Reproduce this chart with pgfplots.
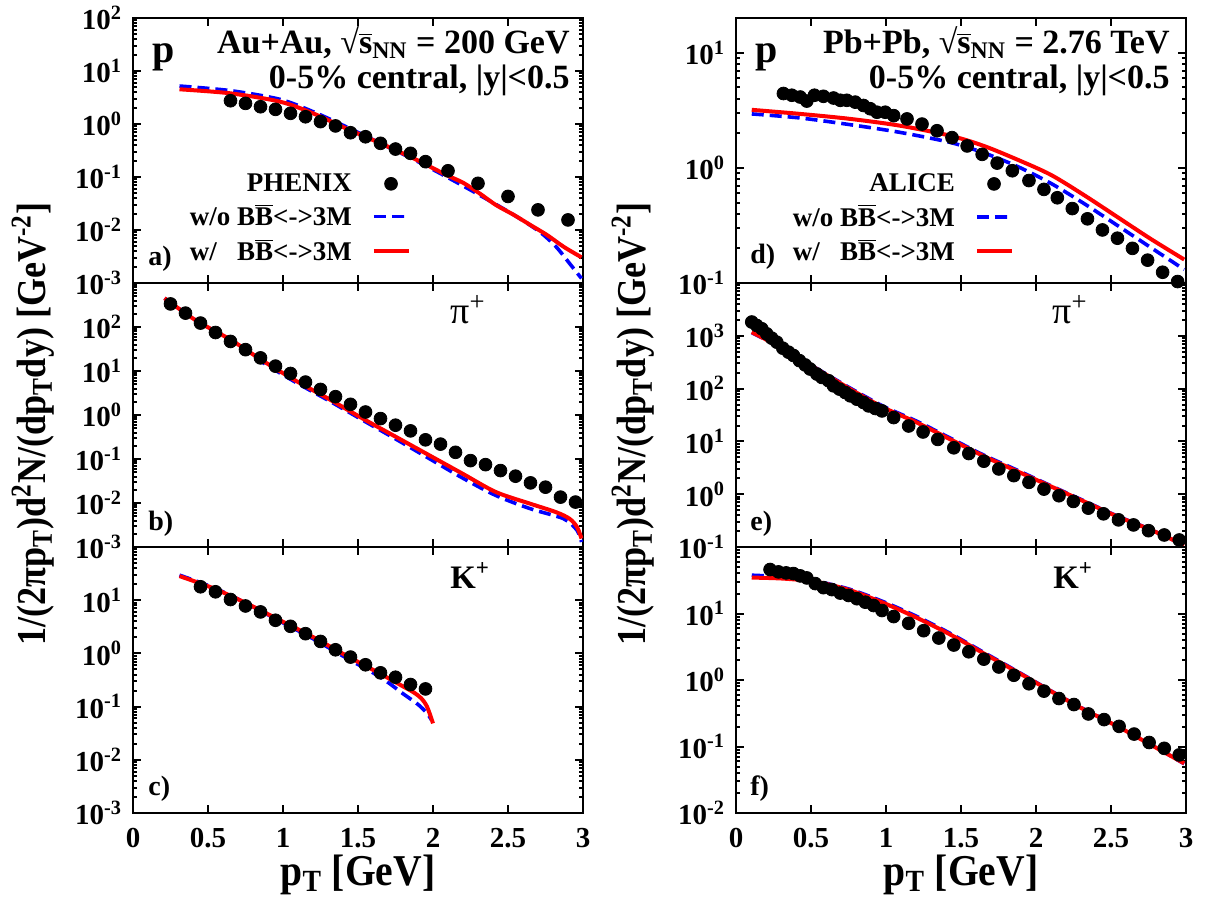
\documentclass[border=0pt]{standalone}
\usepackage{fontspec}
\setmainfont{Liberation Serif}
\usepackage{pgfplots}
\pgfplotsset{compat=1.18}

\definecolor{thred}{RGB}{255,0,0}
\definecolor{thblue}{RGB}{0,0,255}
\newcommand\fs[1]{\fontsize{#1}{#1}\selectfont}
\newcommand\tp[1]{10\textsuperscript{#1}}
\newcommand\bbar{B$\overline{\mbox{B}}$<->3M}

\pgfplotsset{
  myaxis/.style={
    scale only axis, width=225pt, xmin=0, xmax=3,
    anchor=north west,
    axis line style={line width=1.4pt},
    every tick/.style={line width=1pt, black},
    major tick length=4pt, minor tick length=2pt,
    tick align=inside,
    xtick={0,0.5,1,1.5,2,2.5,3}, xticklabels={},
    yticklabel style={font=\bfseries\fs{14.5}, xshift=-2pt},
    xticklabel style={font=\bfseries\fs{14.5}, yshift=-4pt},
  },
  mybottom/.style={xticklabels={0,0.5,1,1.5,2,2.5,3}},
  mydat/.style={only marks, mark=*, mark size=3.2pt, black},
  mywo/.style={no marks, thblue, line width=1.8pt, dash pattern=on 6pt off 3pt, smooth},
  mywi/.style={no marks, thred, line width=2pt, smooth},
  myleg/.style={legend plot pos=right, legend cell align=right,
    legend style={draw=none, fill=none, at={(0.63,0.445)}, anchor=north east,
      font=\bfseries\fs{13.5}, row sep=1pt, column sep=8pt}},
  mAC/.style={minor ytick={0.002,0.003,0.004,0.005,0.006,0.007,0.008,0.009,
    0.02,0.03,0.04,0.05,0.06,0.07,0.08,0.09,0.2,0.3,0.4,0.5,0.6,0.7,0.8,0.9,
    2,3,4,5,6,7,8,9,20,30,40,50,60,70,80,90}},
  mB/.style={minor ytick={0.002,0.003,0.004,0.005,0.006,0.007,0.008,0.009,
    0.02,0.03,0.04,0.05,0.06,0.07,0.08,0.09,0.2,0.3,0.4,0.5,0.6,0.7,0.8,0.9,
    2,3,4,5,6,7,8,9,20,30,40,50,60,70,80,90,200,300,400,500,600,700,800,900}},
  mD/.style={minor ytick={0.2,0.3,0.4,0.5,0.6,0.7,0.8,0.9,2,3,4,5,6,7,8,9,20}},
  mE/.style={minor ytick={0.2,0.3,0.4,0.5,0.6,0.7,0.8,0.9,2,3,4,5,6,7,8,9,
    20,30,40,50,60,70,80,90,200,300,400,500,600,700,800,900,
    2000,3000,4000,5000,6000,7000,8000,9000}},
  mF/.style={minor ytick={0.02,0.03,0.04,0.05,0.06,0.07,0.08,0.09,
    0.2,0.3,0.4,0.5,0.6,0.7,0.8,0.9,2,3,4,5,6,7,8,9,20,30,40,50,60,70,80,90}},
}

\begin{document}
\begin{tikzpicture}
\useasboundingbox (0,0) rectangle (605pt,-451pt);

% a) protons, Au+Au
\begin{axis}[ymode=log, myaxis, mAC, myleg, at={(66.5pt,-9pt)}, height=132.5pt,
  ymin=0.001, ymax=100, ytick={0.001,0.01,0.1,1,10,100},
  yticklabels={\tp{-3},\tp{-2},\tp{-1},\tp{0},\tp{1},\tp{2}}]
\addplot[mydat] coordinates {(0.65,2.75)(0.75,2.45)(0.85,2.12)(0.95,1.89)(1.05,1.59)
  (1.15,1.37)(1.25,1.11)(1.35,0.92)(1.45,0.685)(1.55,0.575)(1.65,0.432)(1.75,0.337)
  (1.85,0.28)(1.95,0.195)(2.1,0.131)(2.3,0.076)(2.5,0.043)(2.7,0.024)(2.9,0.0155)};
\addlegendentry{PHENIX}
\addplot[mywo] coordinates {(0.31,5.21)(0.65,4.26)(0.98,2.92)(1.2,1.71)(1.42,0.891)
  (1.65,0.432)(1.87,0.215)(2.09,0.101)(2.31,0.0457)(2.54,0.0192)(2.71,0.0093)
  (2.82,0.00485)(2.91,0.00235)(2.99,0.00122)};
\addlegendentry{w/o \bbar}
\addplot[mywi] coordinates {(0.31,4.52)(0.65,3.79)(0.98,2.64)(1.2,1.59)(1.42,0.828)
  (1.65,0.432)(1.87,0.225)(2.09,0.109)(2.2,0.0782)(2.31,0.0492)(2.42,0.0296)
  (2.54,0.0192)(2.65,0.0124)(2.76,0.00805)(2.87,0.00485)(2.99,0.00305)};
\addlegendentry{w/\hphantom{o} \bbar}
\end{axis}

% b) pi+, Au+Au
\begin{axis}[ymode=log, myaxis, mB, at={(66.5pt,-141.5pt)}, height=132pt,
  ymin=0.001, ymax=1000, ytick={0.001,0.01,0.1,1,10,100,1000},
  yticklabels={\tp{-3},\tp{-2},\tp{-1},\tp{0},\tp{1},\tp{2},{}}]
\addplot[mydat] coordinates {(0.25,335)(0.35,207)(0.45,123)(0.55,75)(0.65,47)(0.75,30.6)
  (0.85,19.9)(0.95,12.9)(1.05,8.8)(1.15,5.6)(1.25,3.82)(1.35,2.61)(1.45,1.75)(1.55,1.17)
  (1.65,0.83)(1.75,0.587)(1.85,0.436)(1.95,0.273)(2.05,0.218)(2.15,0.142)(2.25,0.092)
  (2.35,0.0745)(2.45,0.0546)(2.55,0.0407)(2.65,0.0287)(2.75,0.0229)(2.85,0.0136)(2.95,0.0105)};
\addplot[mywo] coordinates {(0.21,451)(0.42,141)(0.65,49.8)(0.87,15.3)(1.09,5.41)(1.31,2.08)
  (1.54,0.735)(1.76,0.274)(1.98,0.100)(2.2,0.0366)(2.42,0.0148)(2.65,0.0074)(2.87,0.0044)
  (2.96,0.0024)(2.99,0.0013)};
\addplot[mywi] coordinates {(0.21,451)(0.42,141)(0.65,51.5)(0.87,16.7)(1.09,5.89)(1.31,2.27)
  (1.54,0.80)(1.76,0.309)(1.98,0.119)(2.2,0.0458)(2.42,0.0177)(2.65,0.0096)(2.82,0.0062)
  (2.91,0.0044)(2.96,0.00285)(2.99,0.00156)};
\end{axis}

% c) K+, Au+Au
\begin{axis}[ymode=log, myaxis, mybottom, mAC, at={(66.5pt,-273.5pt)}, height=133pt,
  ymin=0.001, ymax=100, ytick={0.001,0.01,0.1,1,10,100},
  yticklabels={\tp{-3},\tp{-2},\tp{-1},\tp{0},\tp{1},{}}]
\addplot[mydat] coordinates {(0.45,17.9)(0.55,14.4)(0.65,10.3)(0.75,7.8)(0.85,6.03)(0.95,4.2)
  (1.05,3.23)(1.15,2.35)(1.25,1.68)(1.35,1.17)(1.45,0.853)(1.55,0.612)(1.65,0.432)
  (1.75,0.357)(1.85,0.26)(1.95,0.215)};
\addplot[mywo] coordinates {(0.31,29.6)(0.54,17.1)(0.76,8.65)(0.98,4.02)(1.2,1.89)(1.42,0.828)
  (1.65,0.357)(1.8,0.175)(1.9,0.11)(1.96,0.075)(1.99,0.056)};
\addplot[mywi] coordinates {(0.31,28.4)(0.54,16.6)(0.76,8.65)(0.98,4.2)(1.2,2.03)(1.42,0.916)
  (1.65,0.413)(1.8,0.24)(1.87,0.186)(1.92,0.145)(1.96,0.1)(2.0,0.0484)};
\end{axis}

% d) protons, Pb+Pb
\begin{axis}[ymode=log, myaxis, mD, myleg, at={(368pt,-9pt)}, height=132.5pt,
  ymin=0.1, ymax=20, ytick={0.1,1,10},
  yticklabels={\tp{-1},\tp{0},\tp{1}}]
\addplot[mydat] coordinates {(0.316,4.42)(0.372,4.27)(0.428,4.12)(0.472,3.8)(0.523,4.27)
  (0.583,4.18)(0.65,4.04)(0.695,3.86)(0.739,3.86)(0.795,3.72)(0.85,3.48)(0.895,3.26)
  (0.94,3.04)(0.995,3.04)(1.051,2.84)(1.14,2.66)(1.24,2.40)(1.34,2.10)(1.44,1.83)
  (1.541,1.55)(1.641,1.31)(1.741,1.10)(1.842,0.944)(1.953,0.776)(2.053,0.65)(2.142,0.55)
  (2.242,0.443)(2.343,0.361)(2.443,0.289)(2.543,0.245)(2.643,0.2)(2.744,0.158)
  (2.844,0.124)(2.944,0.103)};
\addlegendentry{ALICE}
\addplot[mywo] coordinates {(0.105,2.94)(0.428,2.71)(0.762,2.37)(1.096,2.03)(1.43,1.66)
  (1.652,1.35)(1.875,1.03)(2.098,0.735)(2.32,0.49)(2.543,0.316)(2.766,0.203)(2.988,0.131)};
\addlegendentry{w/o \bbar}
\addplot[mywi] coordinates {(0.105,3.19)(0.428,2.94)(0.762,2.66)(1.096,2.32)(1.43,1.90)
  (1.652,1.55)(1.875,1.18)(2.098,0.871)(2.32,0.58)(2.543,0.374)(2.766,0.241)(2.988,0.16)};
\addlegendentry{w/\hphantom{o} \bbar}
\end{axis}

% e) pi+, Pb+Pb
\begin{axis}[ymode=log, myaxis, mE, at={(368pt,-141.5pt)}, height=132pt,
  ymin=0.1, ymax=10000, ytick={0.1,1,10,100,1000,10000},
  yticklabels={\tp{-1},\tp{0},\tp{1},\tp{2},\tp{3},{}}]
\addplot[mydat] coordinates {(0.105,1824)(0.138,1571)(0.172,1360)(0.205,1091)(0.238,903)
  (0.272,758)(0.312,583)(0.35,490)(0.383,424)(0.423,339)(0.461,281)(0.494,235)(0.539,189)
  (0.572,163)(0.617,141)(0.65,113)(0.69,97.8)(0.728,84.5)(0.762,73)(0.806,63)(0.85,54.6)
  (0.884,47.1)(0.929,42)(0.973,37.8)(1.051,28.3)(1.151,19.6)(1.247,15.1)(1.345,10.9)
  (1.452,7.57)(1.552,5.9)(1.652,4.22)(1.752,3.01)(1.852,2.25)(1.953,1.68)(2.053,1.25)
  (2.153,0.936)(2.249,0.73)(2.349,0.545)(2.45,0.425)(2.55,0.327)(2.65,0.262)(2.75,0.204)
  (2.855,0.169)(2.955,0.136)};
\addplot[mywo] coordinates {(0.105,1150)(0.316,560)(0.539,240)(0.762,102)(0.984,46)(1.207,24)
  (1.43,11.5)(1.652,5.5)(1.875,2.85)(2.098,1.45)(2.32,0.75)(2.543,0.385)(2.766,0.213)(2.988,0.108)};
\addplot[mywi] coordinates {(0.105,1175)(0.316,565)(0.539,235)(0.762,97.8)(0.984,43.7)
  (1.207,22.7)(1.43,10.9)(1.652,5.25)(1.875,2.72)(2.098,1.41)(2.32,0.73)(2.543,0.378)
  (2.766,0.211)(2.988,0.109)};
\end{axis}

% f) K+, Pb+Pb
\begin{axis}[ymode=log, myaxis, mybottom, mF, at={(368pt,-273.5pt)}, height=133pt,
  ymin=0.01, ymax=100, ytick={0.01,0.1,1,10,100},
  yticklabels={\tp{-2},\tp{-1},\tp{0},\tp{1},{}}]
\addplot[mydat] coordinates {(0.227,45.9)(0.283,42.3)(0.334,40.8)(0.383,39.9)(0.428,36.8)
  (0.472,34.3)(0.528,28.2)(0.583,24.5)(0.639,22.9)(0.695,20.3)(0.75,18.7)(0.806,16.7)
  (0.862,14.8)(0.917,13.2)(0.973,11.1)(1.051,9.0)(1.151,7.13)(1.251,5.52)(1.352,4.28)
  (1.452,3.36)(1.552,2.66)(1.652,2.06)(1.752,1.57)(1.852,1.18)(1.953,0.879)(2.053,0.681)
  (2.153,0.527)(2.253,0.428)(2.349,0.309)(2.454,0.254)(2.554,0.201)(2.654,0.154)
  (2.754,0.115)(2.855,0.094)(2.955,0.0748)};
\addplot[mywo] coordinates {(0.105,37.7)(0.316,35.5)(0.539,30.5)(0.762,23)(0.984,15)(1.207,9.0)
  (1.43,5.0)(1.652,2.6)(1.875,1.35)(2.098,0.69)(2.32,0.365)(2.543,0.203)(2.766,0.107)(2.988,0.055)};
\addplot[mywi] coordinates {(0.105,34.7)(0.316,33.5)(0.539,29.9)(0.762,22.3)(0.984,14.4)
  (1.207,8.6)(1.43,4.81)(1.652,2.51)(1.875,1.32)(2.098,0.681)(2.32,0.36)(2.543,0.201)
  (2.766,0.106)(2.988,0.0558)};
\end{axis}

% annotations
\begin{scope}[every node/.style={inner sep=0pt, font=\bfseries}]
\node[anchor=base west, font=\bfseries\fs{20}] at (76pt,-31pt) {p};
\node[anchor=base west, font=\bfseries\fs{20}] at (377.5pt,-31pt) {p};
\node[anchor=base east, font=\bfseries\fs{17}] at (285pt,-26.5pt)
  {Au+Au, √$\overline{\mbox{s}}$\textsubscript{NN} = 200 GeV};
\node[anchor=base east, font=\bfseries\fs{17}] at (285pt,-44pt) {0-5\% central, |y|<0.5};
\node[anchor=base east, font=\bfseries\fs{17}] at (585pt,-26.5pt)
  {Pb+Pb, √$\overline{\mbox{s}}$\textsubscript{NN} = 2.76 TeV};
\node[anchor=base east, font=\bfseries\fs{17}] at (585pt,-44pt) {0-5\% central, |y|<0.5};
\node[anchor=base west, font=\bfseries\fs{14}] at (74pt,-132.5pt) {a)};
\node[anchor=base west, font=\bfseries\fs{14}] at (74pt,-265pt) {b)};
\node[anchor=base west, font=\bfseries\fs{14}] at (74pt,-397.5pt) {c)};
\node[anchor=base west, font=\bfseries\fs{14}] at (375pt,-131.5pt) {d)};
\node[anchor=base west, font=\bfseries\fs{14}] at (375pt,-265pt) {e)};
\node[anchor=base west, font=\bfseries\fs{14}] at (375pt,-397.5pt) {f)};
\node[anchor=base west, font=\fs{19}] at (225pt,-161.5pt) {π\textsuperscript{+}};
\node[anchor=base west, font=\fs{19}] at (526pt,-161.5pt) {π\textsuperscript{+}};
\node[anchor=base west, font=\bfseries\fs{16.4}] at (225pt,-294pt) {K\textsuperscript{+}};
\node[anchor=base west, font=\bfseries\fs{16.4}] at (526.5pt,-294pt) {K\textsuperscript{+}};
\node[anchor=base, font=\bfseries\fs{22}] at (179pt,-442.5pt)
  {\scalebox{0.9}[1]{p\textsubscript{T} [GeV]}};
\node[anchor=base, font=\bfseries\fs{22}] at (480.5pt,-442.5pt)
  {\scalebox{0.9}[1]{p\textsubscript{T} [GeV]}};
\node[rotate=90, font=\bfseries\fs{20.5}] at (16.5pt,-212pt)
  {\scalebox{0.88}[1]{1/(2πp\textsubscript{T})d\textsuperscript{2}N/(dp\textsubscript{T}dy) [GeV\textsuperscript{-2}]}};
\node[rotate=90, font=\bfseries\fs{20.5}] at (316.5pt,-212pt)
  {\scalebox{0.88}[1]{1/(2πp\textsubscript{T})d\textsuperscript{2}N/(dp\textsubscript{T}dy) [GeV\textsuperscript{-2}]}};
\end{scope}
\end{tikzpicture}
\end{document}
